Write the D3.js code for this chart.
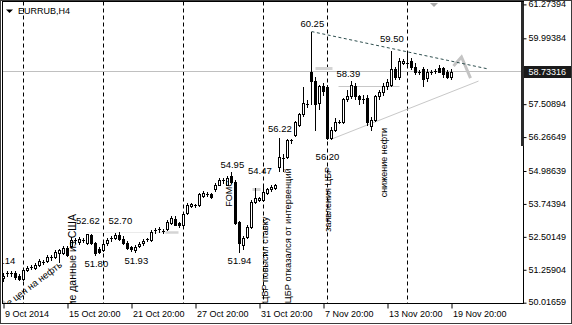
<!DOCTYPE html>
<html><head><meta charset="utf-8">
<script src="https://cdn.jsdelivr.net/npm/d3@7"></script>
<style>html,body{margin:0;padding:0;background:#fff;}svg{display:block;}</style>
</head><body>
<svg id="chart" width="572" height="325"></svg>
<script>
// ---------- data ----------
const symbol = "EURRUB,H4";
const barOpen = [
50.96,51.13,51.11,51.15,51.04,50.92,51.26,51.36,51.34,51.45,
51.57,51.60,51.72,51.75,51.91,51.91,52.09,52.17,52.36,52.32,
52.40,52.28,52.58,52.28,52.06,52.02,52.28,52.43,52.47,52.59,
52.43,52.28,52.13,52.02,52.17,52.28,52.40,52.40,52.74,52.77,
52.74,52.81,53.04,53.19,53.04,52.96,53.42,53.68,53.72,53.72,
54.06,54.17,54.13,54.29,54.47,54.63,54.47,54.78,54.59,53.08,
52.21,52.51,52.89,53.83,53.91,53.91,54.17,54.29,54.36,55.15,
55.53,55.53,56.14,56.36,56.74,57.12,57.57,58.71,58.37,57.57,
58.18,58.14,56.25,56.55,56.85,56.82,57.69,57.80,58.21,57.80,
57.72,57.76,56.67,56.93,57.80,57.95,58.18,58.25,58.82,58.52,
59.08,59.01,59.12,58.93,58.72,58.82,58.48,58.71,58.74,58.86,
58.86,58.71,58.55];
const barHigh = [
51.14,51.23,51.23,51.23,51.11,51.34,51.41,51.45,51.53,51.68,
51.64,51.83,51.83,52.02,52.06,52.17,52.17,52.51,52.47,52.51,
52.47,52.62,52.61,52.32,52.13,52.32,52.47,52.55,52.66,52.70,
52.55,52.36,52.17,52.21,52.32,52.43,52.47,52.77,52.85,52.89,
52.81,53.15,53.30,53.27,53.08,53.45,53.79,53.79,53.76,54.17,
54.25,54.21,54.17,54.55,54.74,54.74,54.81,54.95,54.66,53.11,
52.55,52.96,53.91,54.36,54.02,54.47,54.36,54.47,54.51,56.22,
55.61,56.21,56.21,56.89,57.19,58.14,57.65,60.25,58.52,58.25,
58.29,58.25,56.63,56.97,56.93,57.76,58.06,58.39,58.29,57.87,
57.84,57.84,57.01,57.87,58.06,58.29,58.44,59.50,58.93,59.27,
59.20,59.42,59.27,59.05,58.78,58.93,58.82,58.78,58.82,58.97,
58.93,58.78,58.82];
const barLow = [
50.85,51.04,51.04,50.92,50.89,50.89,51.23,51.30,51.30,51.41,
51.49,51.57,51.64,51.72,51.57,51.87,51.79,52.13,52.28,52.25,
52.32,52.25,52.25,51.80,51.91,51.98,52.21,52.36,52.43,52.40,
52.25,52.06,51.98,51.93,52.13,52.21,52.36,52.36,52.66,52.70,
52.66,52.77,53.00,52.93,52.89,52.93,53.38,53.61,53.64,53.68,
54.02,54.06,53.98,54.25,54.44,54.55,54.44,54.55,53.00,51.94,
52.06,52.47,52.85,53.79,53.87,53.87,54.13,54.25,54.32,54.97,
54.97,55.49,56.06,56.29,56.70,57.08,57.42,57.50,56.55,57.31,
57.87,56.20,56.21,56.48,56.78,56.78,57.61,57.76,57.72,57.53,
57.57,56.74,56.55,56.89,57.72,57.87,58.10,58.18,58.44,58.44,
59.01,58.93,58.82,58.63,58.63,58.18,58.37,58.63,58.67,58.71,
58.55,58.48,58.44];
const barClose = [
51.04,51.15,51.15,51.00,50.92,51.26,51.34,51.38,51.45,51.60,
51.55,51.75,51.75,51.94,52.02,52.09,51.83,52.40,52.40,52.43,
52.38,52.60,52.28,51.91,51.94,52.25,52.40,52.47,52.59,52.43,
52.28,52.09,52.06,52.13,52.25,52.36,52.42,52.70,52.77,52.81,
52.72,53.08,53.23,52.96,52.93,53.38,53.72,53.76,53.70,54.10,
54.17,54.13,54.02,54.47,54.66,54.66,54.74,54.59,53.04,52.28,
52.47,52.89,53.83,53.98,53.95,54.21,54.29,54.40,54.44,55.53,
55.49,56.17,56.17,56.82,57.12,57.57,57.50,58.37,57.50,58.18,
57.99,56.25,56.55,56.85,56.83,57.69,57.80,58.25,57.80,57.69,
57.70,56.85,56.93,57.80,57.95,58.18,58.33,58.82,58.52,59.12,
59.12,59.08,58.93,58.71,58.71,58.44,58.74,58.72,58.76,58.74,
58.63,58.55,58.73316];

const currentPrice = 58.73316;
const yTicks = [61.27394,59.99384,57.50894,56.26649,54.98639,53.74394,52.50149,51.25904,50.01659];
const xTickIdx = [0,16,32,48,64,80,96,112];
const xTickLabels = ["9 Oct 2014","15 Oct 20:00","21 Oct 20:00","27 Oct 20:00","31 Oct 20:00","7 Nov 20:00","13 Nov 20:00","19 Nov 20:00"];
const separatorIdx = [5,25,45,65,81,101];

// price labels placed on the chart (text, bar index, anchor price)
const noteText  = ["51.14","52.62","51.80","52.70","51.93","54.95","51.94","54.47","56.22","60.25","56.20","58.39","59.50"];
const noteIdx   = [0,21.1,23.2,29.2,33.2,57.2,59,64.1,69.1,77.2,81,86.2,97.1];
const notePrice = [51.48,52.99,51.38,52.99,51.48,55.10,51.48,54.86,56.47,60.41,55.40,58.52,59.87];

// vertical comments (text, bar index, anchor price, anchor, size)
const vText   = ["Плохие данные из США","FOMC","ЦБР повысил ставку","ЦБР отказался от интервенций","заявления ЦБР","снижение нефти"];
const vIdx    = [18.0,57.1,66,71.9,81.9,95.9];
const vPrice  = [53.36,54.14,50.0,50.0,55.14,56.61];
const vAnchor = ["end","middle","start","start","end","end"];
const vSize   = [10.5,9,9,9.3,9,9];
// diagonal comment
const dText = "Снижение цен на нефть", dIdx = 14.8, dPrice = 51.40, dAngle = -37;

// trend lines [idx0, price0, idx1, price1]
const resistLine = [77, 60.25, 121.25, 58.835];
const supportLine = [82, 56.19, 118.75, 58.38];
// horizontal level marks [idx0, idx1, price, width, color]
const levelMarks = [
  [21, 40.5, 52.684, 1, "#ebebeb"],
  [40.5, 43.75, 52.684, 2.5, "#d4d4d4"],
  [62.25, 64.25, 54.307, 3, "#d4d4d4"],
  [78, 82.25, 58.854, 3, "#d4d4d4"],
  [83.75, 99, 58.193, 1, "#c8c8c8"]
];
const chevronIdx = [112.5, 114.5, 116.75];
const chevronPrice = [58.948, 59.288, 58.495];

// ---------- drawing ----------
const svg = d3.select("#chart");
const font = "'Liberation Sans', Arial, sans-serif";
const L = 2.5, R = 523.5, T = 1.5, B = 303.5;

const x = d3.scaleLinear().domain([0, 112]).range([3.5, 451.5]);
const y = d3.scaleLinear().domain([50.01659, 61.27394]).range([302.7, 4.4]);
const crisp = v => Math.floor(v) + 0.5;

svg.append("rect").attr("width",572).attr("height",325).attr("fill","#fff");
svg.append("defs").append("clipPath").attr("id","plot")
  .append("rect").attr("x",3).attr("y",2).attr("width",520).attr("height",301);

const plot = svg.append("g").attr("clip-path","url(#plot)");

// period separators
plot.selectAll("line.sep").data(separatorIdx).join("line")
  .attr("x1",d=>x(d)).attr("x2",d=>x(d)).attr("y1",T).attr("y2",B)
  .attr("stroke","#000").attr("stroke-dasharray","4,3").attr("stroke-width",1);

// level marks
plot.selectAll("line.lvl").data(levelMarks).join("line")
  .attr("x1",d=>x(d[0])).attr("x2",d=>x(d[1]))
  .attr("y1",d=>crisp(y(d[2]))).attr("y2",d=>crisp(y(d[2])))
  .attr("stroke",d=>d[4]).attr("stroke-width",d=>d[3]);

// current price line
plot.append("line").attr("x1",L).attr("x2",R)
  .attr("y1",crisp(y(currentPrice))).attr("y2",crisp(y(currentPrice)))
  .attr("stroke","#c0c0c0");

// support line
plot.append("line")
  .attr("x1",x(supportLine[0])).attr("y1",y(supportLine[1]))
  .attr("x2",x(supportLine[2])).attr("y2",y(supportLine[3]))
  .attr("stroke","#c8c8c8").attr("stroke-width",1);

// chevron
plot.append("path")
  .attr("d", d3.line()(chevronIdx.map((d,k)=>[x(d), y(chevronPrice[k])])))
  .attr("fill","none").attr("stroke","#c4c4c4").attr("stroke-width",3);

// candles
const bars = d3.range(barOpen.length).map(i=>({i,o:barOpen[i],h:barHigh[i],l:barLow[i],c:barClose[i]}));
const g = plot.append("g");
bars.forEach(b=>{
  const cx = x(b.i);
  g.append("line").attr("x1",cx).attr("x2",cx)
    .attr("y1",Math.round(y(b.h))).attr("y2",Math.round(y(b.l))+1)
    .attr("stroke","#000");
  const yo = Math.round(y(b.o)), yc = Math.round(y(b.c));
  const top = Math.min(yo,yc), hgt = Math.abs(yo-yc);
  if (hgt < 2) {
    g.append("line").attr("x1",cx-1.5).attr("x2",cx+1.5)
      .attr("y1",yc+0.5).attr("y2",yc+0.5).attr("stroke","#000");
  } else if (b.c > b.o) {
    g.append("rect").attr("x",cx-1).attr("width",2)
      .attr("y",top+0.5).attr("height",hgt)
      .attr("fill","#fff").attr("stroke","#000");
  } else {
    g.append("rect").attr("x",cx-1.5).attr("width",3)
      .attr("y",top).attr("height",hgt+1).attr("fill","#000");
  }
});

// resistance dashed line
plot.append("line")
  .attr("x1",x(resistLine[0])).attr("y1",y(resistLine[1]))
  .attr("x2",x(resistLine[2])).attr("y2",y(resistLine[3]))
  .attr("stroke","#2f4f4f").attr("stroke-dasharray","3,2.5").attr("stroke-width",1);

// price notes
plot.selectAll("text.note").data(noteText).join("text")
  .attr("x",(d,k)=>x(noteIdx[k])).attr("y",(d,k)=>y(notePrice[k]))
  .attr("text-anchor","middle").attr("font-family",font).attr("font-size","9.5px")
  .attr("fill","#000").text(d=>d);

// vertical comments
vText.forEach((t,k)=>{
  plot.append("text")
    .attr("transform",`translate(${x(vIdx[k])},${y(vPrice[k])}) rotate(-90)`)
    .attr("text-anchor",vAnchor[k]).attr("font-family",font).attr("font-size",vSize[k]+"px")
    .attr("fill","#000").text(t);
});
plot.append("text")
  .attr("transform",`translate(${x(dIdx)},${y(dPrice)}) rotate(${dAngle})`)
  .attr("text-anchor","end").attr("font-family",font).attr("font-size","9.5px")
  .attr("fill","#000").text(dText);

// small markers
svg.append("path").attr("d","M3,300 L3,304 L8,304 Z").attr("fill","#c8c8c8");
svg.append("path").attr("d","M430,3 L438,3 L434,7 Z").attr("fill","#a8a8a8");
svg.append("path").attr("d","M6,9.5 L13,9.5 L9.5,13 Z").attr("fill","#000");

// symbol
svg.append("text").attr("x",18).attr("y",14).attr("font-family",font)
  .attr("font-size","9px").attr("fill","#000").text(symbol);

// frame
svg.append("rect").attr("x",0.5).attr("y",0.5).attr("width",571).attr("height",323)
  .attr("fill","none").attr("stroke","#3a3a3a");
svg.append("rect").attr("x",L).attr("y",T).attr("width",R-L).attr("height",B-T)
  .attr("fill","none").attr("stroke","#000");
svg.append("rect").attr("x",521).attr("y",2).attr("width",3).attr("height",144).attr("fill","#2a2a2a");

// y axis
const yAxis = svg.append("g").attr("transform",`translate(${R},0)`)
  .call(d3.axisRight(y).tickValues(yTicks).tickFormat(d3.format(".5f")).tickSize(3).tickPadding(2));
yAxis.select(".domain").remove();
yAxis.selectAll("text").attr("font-family",font).attr("font-size","9px").attr("fill","#000")
  .attr("dy","0.25em");
yAxis.selectAll("line").attr("stroke","#000");

// current price label
const cpy = y(currentPrice);
svg.append("rect").attr("x",524).attr("y",Math.round(cpy)-6).attr("width",47).attr("height",12).attr("fill","#1a1a1a");
svg.append("text").attr("x",528.5).attr("y",cpy).attr("dy","0.32em")
  .attr("font-family",font).attr("font-size","9px").attr("fill","#fff").text(d3.format(".5f")(currentPrice));

// x axis
const xAxis = svg.append("g").attr("transform",`translate(0,${B})`)
  .call(d3.axisBottom(x).tickValues(xTickIdx).tickFormat((d,k)=>xTickLabels[k]).tickSize(5).tickPadding(2));
xAxis.select(".domain").remove();
xAxis.selectAll("line").attr("stroke","#000");
xAxis.selectAll("text").attr("font-family",font).attr("font-size","9px").attr("fill","#000")
  .attr("text-anchor","start").attr("x",1);
</script>
</body></html>
